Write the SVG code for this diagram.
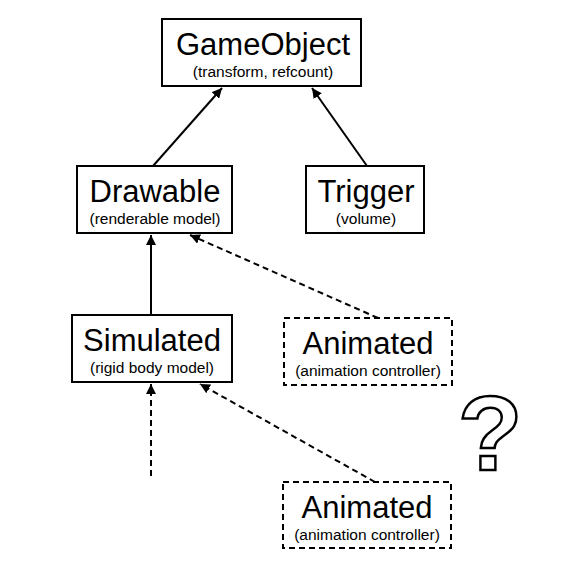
<svg xmlns="http://www.w3.org/2000/svg" width="580" height="577" viewBox="0 0 580 577">
<defs>
<style>
.box{fill:#fff;stroke:#000;stroke-width:2}
.dbox{fill:#fff;stroke:#000;stroke-width:2;stroke-dasharray:6,4}
.t{font-family:"Liberation Sans",Arial,sans-serif;font-size:31px;text-anchor:middle;fill:#000}
.s{font-family:"Liberation Sans",Arial,sans-serif;font-size:15.5px;text-anchor:middle;fill:#000}
.c{stroke:#000;stroke-width:2;fill:none;marker-end:url(#ah)}
.d{stroke-dasharray:6,4}
</style>
<marker id="ah" viewBox="0 0 10 10" refX="10" refY="5" markerWidth="5" markerHeight="5" orient="auto" markerUnits="strokeWidth">
<path d="M0,0 L10,5 L0,10 z" fill="#000"/>
</marker>
</defs>
<rect width="580" height="577" fill="#fff"/>
<g id="connectors">
<line class="c" x1="153" y1="166" x2="222" y2="88"/>
<line class="c" x1="367" y1="166" x2="312" y2="88"/>
<line class="c" x1="151" y1="315" x2="151" y2="235"/>
<line class="c d" x1="378" y1="318" x2="190" y2="235"/>
<line class="c d" x1="151" y1="476" x2="151" y2="384"/>
<line class="c d" x1="375" y1="482" x2="200" y2="384"/>
</g>
<g id="GameObject">
<rect class="box" x="162" y="19" width="199" height="67"/>
<text class="t" x="263" y="55">GameObject</text>
<text class="s" x="263" y="77">(transform, refcount)</text>
</g>
<g id="Drawable">
<rect class="box" x="77" y="166" width="155" height="67"/>
<text class="t" x="155" y="202">Drawable</text>
<text class="s" x="155" y="224">(renderable model)</text>
</g>
<g id="Trigger">
<rect class="box" x="306" y="166" width="118" height="67"/>
<text class="t" x="366" y="202">Trigger</text>
<text class="s" x="366" y="224">(volume)</text>
</g>
<g id="Simulated">
<rect class="box" x="72" y="315" width="160" height="67"/>
<text class="t" x="152" y="351">Simulated</text>
<text class="s" x="152" y="373">(rigid body model)</text>
</g>
<g id="Animated1">
<rect class="dbox" x="284" y="318" width="168" height="67"/>
<text class="t" x="368" y="354">Animated</text>
<text class="s" x="368" y="376">(animation controller)</text>
</g>
<g id="Animated2">
<rect class="dbox" x="283" y="482" width="168" height="66"/>
<text class="t" x="367" y="518">Animated</text>
<text class="s" x="367" y="540">(animation controller)</text>
</g>
<g id="question">
<text x="490" y="470" font-family="'Liberation Sans',Arial,sans-serif" font-size="106" font-weight="bold" text-anchor="middle" fill="#fff" stroke="#000" stroke-width="2.5">?</text>
</g>
</svg>
